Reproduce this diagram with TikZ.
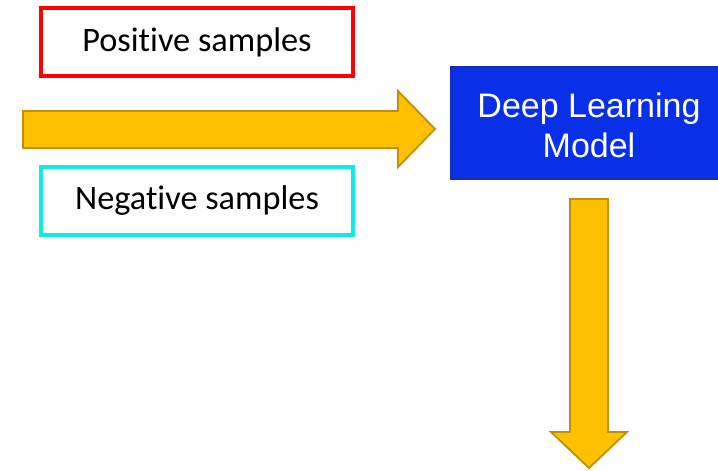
\documentclass[tikz,border=0pt]{standalone}
\usepackage{fontspec}
\setmainfont{Carlito}[Ligatures=NoCommon]
\newfontfamily\arialfont{Liberation Sans}
\definecolor{arrowfill}{HTML}{FFC000}
\definecolor{arrowline}{HTML}{BF9000}
\definecolor{modelblue}{HTML}{0A2FE8}
\definecolor{modeledge}{HTML}{1A2DB0}
\definecolor{negcyan}{HTML}{0AEDE5}
\begin{document}
\begin{tikzpicture}[x=1pt,y=-1pt,
  samplebox/.style={draw, line width=4pt, fill=white, minimum width=312pt, minimum height=68pt, inner sep=0pt, font=\fontsize{34.3}{40}\selectfont},
  blockarrow/.style={fill=arrowfill, draw=arrowline, line width=1.8pt, line join=miter}]
\useasboundingbox (0,0) rectangle (718,471);
\clip (0,0) rectangle (718,471);
\fill[white] (0,0) rectangle (718,471);
\node[samplebox, draw=red] (pos) at (197,42) {Positive samples};
\node[samplebox, draw=negcyan] (neg) at (197,201) {Negative samples};
\draw[blockarrow] (23,111) -- (398,111) -- (398,91) -- (435,129) -- (398,167) -- (398,148) -- (23,148) -- cycle;
\node[draw=modeledge, fill=modelblue, line width=1.5pt, minimum width=282pt, minimum height=112pt, anchor=north west, inner sep=0pt] (model) at (449.5,66) {};
\node[text=white, font=\arialfont\fontsize{34}{40}\selectfont, align=center, anchor=center] (modeltext) at (589,125) {Deep Learning\\Model};
\draw[blockarrow] (570,199) -- (608,199) -- (608,432) -- (627,432) -- (589,468) -- (551,432) -- (570,432) -- cycle;
\end{tikzpicture}
\end{document}
